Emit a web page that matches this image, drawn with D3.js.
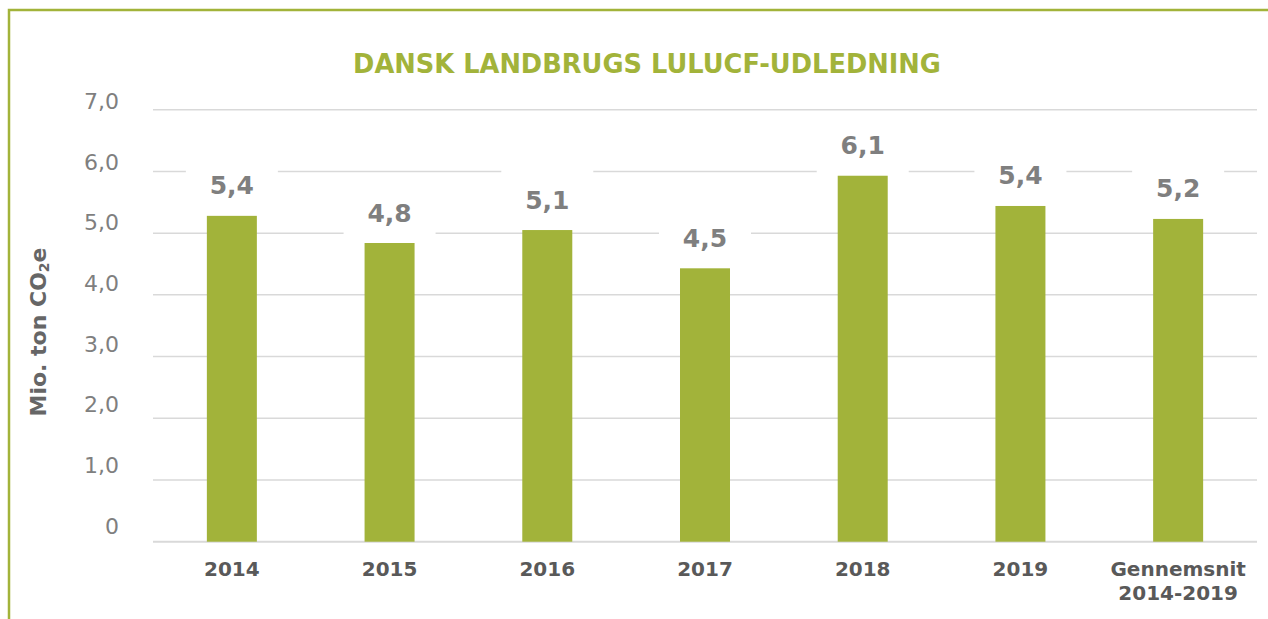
<!DOCTYPE html>
<html>
<head>
<meta charset="utf-8">
<script src="https://cdn.jsdelivr.net/npm/d3@7"></script>
<style>
  body { margin: 0; background: #fff; }
  svg { display: block; font-family: 'DejaVu Sans', Verdana, sans-serif; }
</style>
</head>
<body>
<svg id="chart" width="1268" height="619"></svg>
<script>
// data
var categories = ['2014', '2015', '2016', '2017', '2018', '2019', 'Gennemsnit 2014-2019'];
var categoryLines = [['2014'], ['2015'], ['2016'], ['2017'], ['2018'], ['2019'], ['Gennemsnit', '2014-2019']];
var values = [5.28, 4.84, 5.05, 4.43, 5.93, 5.44, 5.23];
var valueLabels = ['5,4', '4,8', '5,1', '4,5', '6,1', '5,4', '5,2'];
var yTicks = [0, 1, 2, 3, 4, 5, 6, 7];
var yTickLabels = ['0', '1,0', '2,0', '3,0', '4,0', '5,0', '6,0', '7,0'];

var green = '#a2b33a';
var svg = d3.select('#chart');

var x = d3.scaleBand()
    .domain(categories)
    .range([153, 1257])
    .paddingInner(0.683)
    .paddingOuter(0.3415);

var y = d3.scaleLinear()
    .domain([0, 7])
    .range([541.7, 109.7]);

// tick labels sit a little off the grid lines in the original
var yLabel = d3.scaleLinear()
    .domain([0, 7])
    .range([533.5, 109]);

// frame
svg.append('rect')
    .attr('x', 9)
    .attr('y', 10)
    .attr('width', 1400)
    .attr('height', 800)
    .attr('fill', 'none')
    .attr('stroke', green)
    .attr('stroke-width', 2.5);

// title
svg.append('text')
    .attr('x', 647)
    .attr('y', 73)
    .attr('text-anchor', 'middle')
    .attr('fill', green)
    .attr('font-size', 25.7)
    .attr('font-weight', 'bold')
    .text('DANSK LANDBRUGS LULUCF-UDLEDNING');

// grid lines
svg.append('g')
    .selectAll('line')
    .data(yTicks)
    .join('line')
    .attr('x1', 153)
    .attr('x2', 1257)
    .attr('y1', function(d) { return y(d); })
    .attr('y2', function(d) { return y(d); })
    .attr('stroke', '#d9d9d9')
    .attr('stroke-width', function(d) { return d === 0 ? 2 : 1.5; });

// y tick labels
svg.append('g')
    .selectAll('text')
    .data(yTicks)
    .join('text')
    .attr('x', 119)
    .attr('y', function(d) { return yLabel(d); })
    .attr('text-anchor', 'end')
    .attr('fill', '#7f7f7f')
    .attr('font-size', 22)
    .text(function(d, i) { return yTickLabels[i]; });

// y axis title
var yTitle = svg.append('text')
    .attr('transform', 'translate(46,332) rotate(-90)')
    .attr('text-anchor', 'middle')
    .attr('fill', '#666')
    .attr('font-size', 22)
    .attr('font-weight', 'bold');
yTitle.append('tspan').text('Mio. ton CO');
yTitle.append('tspan').attr('font-size', 14).attr('dy', 3).text('2');
yTitle.append('tspan').attr('dy', -3).text('e');

// bars
svg.append('g')
    .selectAll('rect')
    .data(values)
    .join('rect')
    .attr('x', function(d, i) { return x(categories[i]); })
    .attr('y', function(d) { return y(d); })
    .attr('width', x.bandwidth())
    .attr('height', function(d) { return y(0) - y(d); })
    .attr('fill', green);

// value labels with white boxes
var labels = svg.append('g')
    .selectAll('g')
    .data(values)
    .join('g')
    .attr('transform', function(d, i) {
        return 'translate(' + (x(categories[i]) + x.bandwidth() / 2) + ',' + (y(d) - 31) + ')';
    });

labels.append('rect')
    .attr('x', -46)
    .attr('y', -29)
    .attr('width', 92)
    .attr('height', 58)
    .attr('fill', '#fff');

labels.append('text')
    .attr('y', 9.5)
    .attr('text-anchor', 'middle')
    .attr('fill', '#7f7f7f')
    .attr('font-size', 25)
    .attr('font-weight', 'bold')
    .text(function(d, i) { return valueLabels[i]; });

// x labels
svg.append('g')
    .selectAll('text')
    .data(categories)
    .join('text')
    .attr('x', function(d) { return x(d) + x.bandwidth() / 2; })
    .attr('y', 576)
    .attr('text-anchor', 'middle')
    .attr('fill', '#595959')
    .attr('font-size', 20)
    .attr('font-weight', 'bold')
    .selectAll('tspan')
    .data(function(d, i) { return categoryLines[i]; })
    .join('tspan')
    .attr('x', function() { return d3.select(this.parentNode).attr('x'); })
    .attr('dy', function(d, j) { return j === 0 ? 0 : 24; })
    .text(function(d) { return d; });
</script>
</body>
</html>
